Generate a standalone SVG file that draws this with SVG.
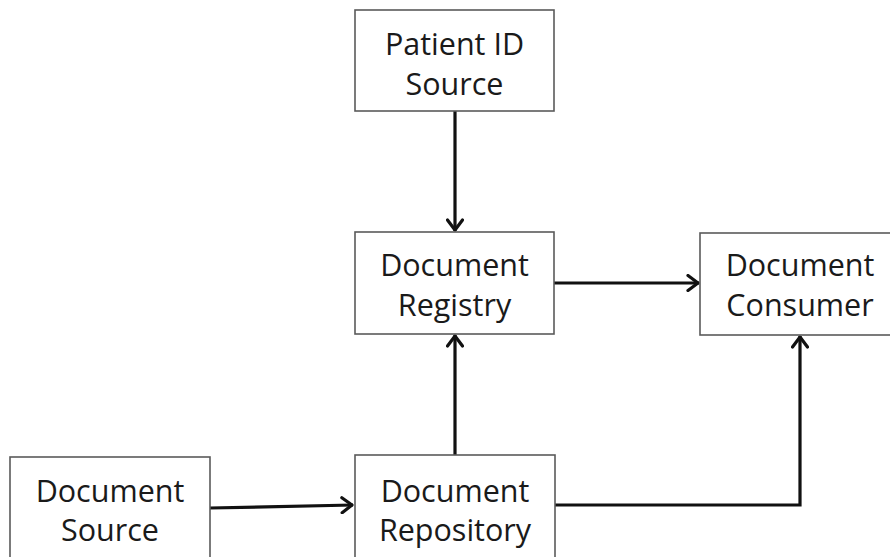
<svg xmlns="http://www.w3.org/2000/svg" width="890" height="557" viewBox="0 0 890 557">
<style>
.box{fill:#fff;stroke:#5a5a5a;stroke-width:1.6}
.lbl{font-family:"Open Sans","Liberation Sans",sans-serif;font-size:30.5px;fill:#1a1a1a;text-anchor:middle}
.conn{fill:none;stroke:#111;stroke-width:3.2}
</style>
<defs>
<marker id="arr" viewBox="-14 -9 16 18" markerWidth="16" markerHeight="18" refX="0" refY="0" orient="auto" markerUnits="userSpaceOnUse">
<path d="M-11,-7.5 L-1,0 L-11,7.5" fill="none" stroke="#111" stroke-width="3.2" stroke-linejoin="round" stroke-linecap="round"/>
</marker>
</defs>
<rect width="890" height="557" fill="#fff"/>
<g id="connectors">
<line class="conn" x1="455" y1="111" x2="455" y2="231" marker-end="url(#arr)"/>
<line class="conn" x1="554" y1="283" x2="699" y2="283" marker-end="url(#arr)"/>
<line class="conn" x1="210" y1="508" x2="353" y2="505" marker-end="url(#arr)"/>
<line class="conn" x1="455" y1="455" x2="455" y2="335" marker-end="url(#arr)"/>
<polyline class="conn" points="555,505 800,505 800,336" marker-end="url(#arr)"/>
</g>
<g id="patient-id-source">
<rect class="box" x="355" y="10" width="199" height="101"/>
<text class="lbl" x="454.5" y="55">Patient ID</text>
<text class="lbl" x="454.5" y="95">Source</text>
</g>
<g id="document-registry">
<rect class="box" x="355" y="232" width="199" height="102"/>
<text class="lbl" x="454.5" y="276">Document</text>
<text class="lbl" x="454.5" y="316">Registry</text>
</g>
<g id="document-consumer">
<rect class="box" x="700" y="233" width="200" height="102"/>
<text class="lbl" x="800" y="276">Document</text>
<text class="lbl" x="800" y="316">Consumer</text>
</g>
<g id="document-source">
<rect class="box" x="10" y="457" width="200" height="110"/>
<text class="lbl" x="110" y="502">Document</text>
<text class="lbl" x="110" y="541">Source</text>
</g>
<g id="document-repository">
<rect class="box" x="355" y="455" width="200" height="112"/>
<text class="lbl" x="455" y="502">Document</text>
<text class="lbl" x="455" y="541">Repository</text>
</g>
</svg>
